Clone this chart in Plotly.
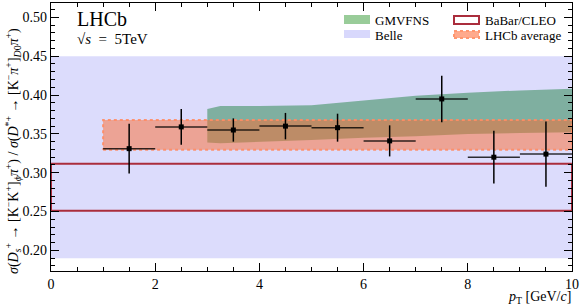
import plotly.graph_objects as go

# ---- data ----
pt_centers = [1.5, 2.5, 3.5, 4.5, 5.5, 6.5, 7.5, 8.5, 9.5]
pt_halfwidth = [0.5] * 9
ratio = [0.331, 0.359, 0.355, 0.360, 0.358, 0.341, 0.395, 0.320, 0.324]
ratio_err = [0.032, 0.023, 0.015, 0.017, 0.018, 0.020, 0.030, 0.034, 0.042]

gmvfns_pt = [3.0, 3.25, 4.0, 5.0, 6.0, 7.0, 8.0, 9.0, 10.0]
gmvfns_high = [0.382, 0.386, 0.386, 0.387, 0.393, 0.399, 0.403, 0.406, 0.408]
gmvfns_low = [0.339, 0.338, 0.340, 0.342, 0.345, 0.347, 0.350, 0.351, 0.352]

belle_range = [0.19, 0.45]
babar_range = [0.251, 0.3115]
lhcb_avg_range = [0.3295, 0.368]
lhcb_avg_pt = [1.0, 10.0]
full_pt = [0.0, 10.0]

FONT = "Liberation Serif"

fig = go.Figure()

# Belle band
fig.add_trace(go.Scatter(x=full_pt + full_pt[::-1],
                         y=[belle_range[0]] * 2 + [belle_range[1]] * 2,
                         fill="toself", fillcolor="rgb(220,220,252)",
                         line=dict(width=0), mode="lines", hoverinfo="skip"))
# GMVFNS band
fig.add_trace(go.Scatter(x=gmvfns_pt + gmvfns_pt[::-1],
                         y=gmvfns_high + gmvfns_low[::-1],
                         fill="toself", fillcolor="rgb(127,175,160)",
                         line=dict(width=0), mode="lines", hoverinfo="skip"))
# LHCb average band
fig.add_trace(go.Scatter(x=lhcb_avg_pt + lhcb_avg_pt[::-1] + [lhcb_avg_pt[0]],
                         y=[lhcb_avg_range[0]] * 2 + [lhcb_avg_range[1]] * 2 + [lhcb_avg_range[0]],
                         fill="toself", fillcolor="rgba(252,105,46,0.5)",
                         line=dict(width=2, color="rgba(255,140,100,0.9)", dash="dot"),
                         mode="lines", hoverinfo="skip"))
# BaBar/CLEO box (outline only)
fig.add_trace(go.Scatter(x=full_pt + full_pt[::-1] + [full_pt[0]],
                         y=[babar_range[0]] * 2 + [babar_range[1]] * 2 + [babar_range[0]],
                         mode="lines", line=dict(width=2, color="rgb(170,45,60)"),
                         hoverinfo="skip"))
# data points
fig.add_trace(go.Scatter(x=pt_centers, y=ratio, mode="markers",
                         marker=dict(symbol="square", size=5, color="black"),
                         error_x=dict(type="data", array=pt_halfwidth, color="rgba(0,0,0,0.8)",
                                      thickness=1.5, width=0),
                         error_y=dict(type="data", array=ratio_err, color="black",
                                      thickness=1.5, width=0)))

axis_common = dict(showline=True, linecolor="black", linewidth=1.2, mirror="ticks",
                   ticks="inside", ticklen=8, tickcolor="black", tickwidth=1,
                   showgrid=False, zeroline=False,
                   tickfont=dict(family=FONT, size=14, color="black"))
fig.update_xaxes(range=[0, 10], dtick=2, tick0=0,
                 minor=dict(dtick=0.5, ticklen=4, ticks="inside", tickcolor="black"),
                 **axis_common)
fig.update_yaxes(range=[0.1735, 0.5185], dtick=0.05, tick0=0, tickformat=".2f",
                 minor=dict(dtick=0.01, ticklen=4, ticks="inside", tickcolor="black"),
                 **axis_common)

W, H = 582, 308
L, R, T, B = 51, 10, 3, 37
pw, ph = W - L - R, H - T - B

def px(xp):
    return (xp - L) / pw

def py(yp):
    return (H - B - yp) / ph

shapes = []
annotations = []

def swatch(x0, x1, y0, y1, fill, line):
    shapes.append(dict(type="rect", xref="paper", yref="paper",
                       x0=px(x0), x1=px(x1), y0=py(y1), y1=py(y0),
                       fillcolor=fill, line=line, layer="above"))

def label(text, xp, yp, size=14, xanchor="left", yanchor="middle", **kw):
    annotations.append(dict(text=text, xref="paper", yref="paper", x=px(xp), y=py(yp),
                            xanchor=xanchor, yanchor=yanchor, showarrow=False,
                            font=dict(family=FONT, size=size, color="black"), **kw))

swatch(344, 370, 15, 24, "rgb(153,204,153)", dict(width=0))
swatch(344, 370, 30, 38, "rgb(216,216,252)", dict(width=0))
swatch(454, 479, 16, 24, "white", dict(width=2, color="rgb(170,45,60)"))
swatch(454, 479, 31, 38, "rgb(255,170,140)", dict(width=2, color="rgb(255,150,110)", dash="dot"))
label("GMVFNS", 373, 20, size=13)
label("Belle", 373, 35, size=13)
label("BaBar/CLEO", 483, 20, size=13)
label("LHCb average", 483, 35, size=13)

label("LHCb", 75, 19.5, size=20)
label("&#8730;<i>s</i>&nbsp;&nbsp;=&nbsp;&nbsp;5TeV", 75, 38.5, size=15)

label("<i>p</i><sub>T</sub> [GeV/<i>c</i>]", 573, 297, size=14, xanchor="right")

annotations.append(dict(
    text="<i>σ</i>(<i>D</i><sub><i>s</i></sub><sup>+</sup> → [K<sup>−</sup>K<sup>+</sup>]<sub><i>ϕ</i></sub><i>π</i><sup>+</sup>)"
         " / <i>σ</i>(<i>D</i><sup>*+</sup> → [K<sup>−</sup><i>π</i><sup>+</sup>]<sub><i>D</i>0</sub><i>π</i><sup>+</sup>)",
    xref="paper", yref="paper", x=px(13), y=py(151), textangle=-90,
    xanchor="center", yanchor="middle", showarrow=False,
    font=dict(family=FONT, size=14, color="black")))

fig.update_layout(width=W, height=H, margin=dict(l=L, r=R, t=T, b=B),
                  paper_bgcolor="white", plot_bgcolor="white", showlegend=False,
                  shapes=shapes, annotations=annotations,
                  font=dict(family=FONT, color="black"))

fig.write_html("out.html", config={"displayModeBar": False},
               post_script="document.body.style.margin='0';document.body.style.overflow='hidden';")
